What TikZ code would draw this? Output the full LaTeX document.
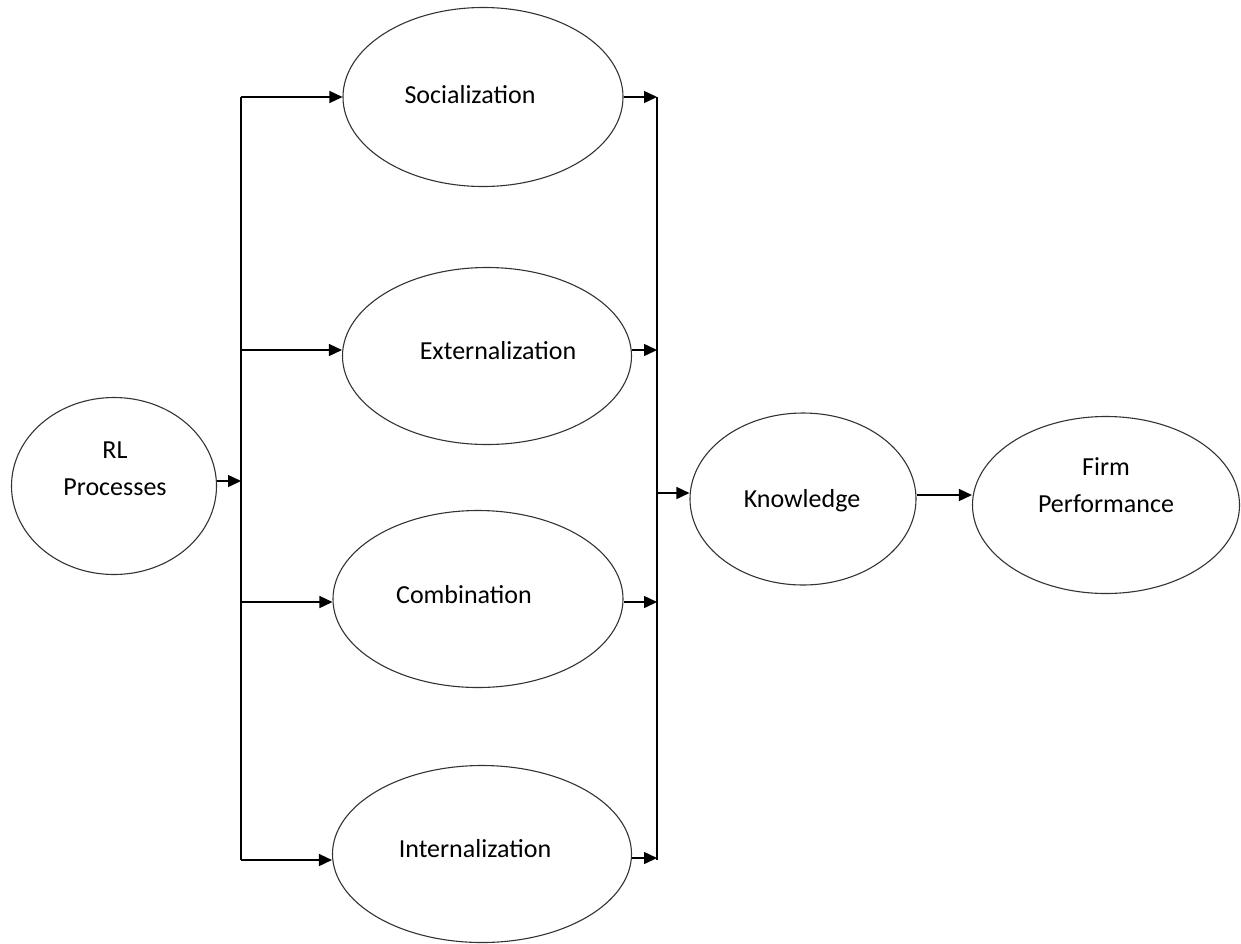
\documentclass[tikz,border=0pt]{standalone}
\usepackage{fontspec}
\setmainfont{Carlito}
\usetikzlibrary{shapes.geometric,arrows.meta}
\begin{document}
\begin{tikzpicture}[x=1pt,y=-1pt,
  ell/.style={draw=black!80,line width=1.1pt,ellipse,inner sep=0pt},
  lbl/.style={font=\fontsize{26}{37}\selectfont,align=center,inner sep=0pt},
  conn/.style={line width=1.5pt},
  arr/.style={line width=1.5pt,-{Triangle[length=13pt,width=12pt]}}]
\useasboundingbox (0,0) rectangle (1241,943);
% ellipses
\node[ell,minimum width=205pt,minimum height=177pt] (rl) at (114,486) {};
\node[ell,minimum width=280pt,minimum height=179pt] (soc) at (483,97) {};
\node[ell,minimum width=289pt,minimum height=177pt] (ext) at (487,356) {};
\node[ell,minimum width=290pt,minimum height=177pt] (com) at (478,599) {};
\node[ell,minimum width=299pt,minimum height=177pt] (int) at (482,854) {};
\node[ell,minimum width=226pt,minimum height=172pt] (kno) at (803,499) {};
\node[ell,minimum width=267pt,minimum height=177pt] (fp) at (1106,505) {};
% labels
\node[lbl] (rlt) at (115,469) {RL\\Processes};
\node[lbl,anchor=base] (soct) at (470,103) {Socialization};
\node[lbl,anchor=base] (extt) at (498,359) {Externalization};
\node[lbl,anchor=base] (comt) at (464,603) {Combination};
\node[lbl,anchor=base] (intt) at (475,857) {Internalization};
\node[lbl,anchor=base] (knot) at (802,507) {Knowledge};
\node[lbl] (fpt) at (1106,485) {Firm\\Performance};
% bus coordinates
\coordinate (lt) at (241,97);
\coordinate (lb) at (241,860);
\coordinate (lm) at (241,481);
\coordinate (rt) at (657,97);
\coordinate (rb) at (657,860);
\coordinate (rm) at (657,493);
\coordinate (l2) at (241,350);
\coordinate (l3) at (241,602);
\coordinate (r1) at (657,97);
\coordinate (r2) at (657,350);
\coordinate (r3) at (657,602);
\coordinate (r4) at (657,858);
% left bus
\draw[conn] (lt) -- (lb);
\draw[arr] (rl.east |- lm) -- (lm);
\draw[arr] (lt) -- (soc.west);
\draw[arr] (l2) -- (ext.west |- l2);
\draw[arr] (l3) -- (com.west |- l3);
\draw[arr] (lb) -- (int.west |- lb);
% right bus
\draw[conn] (rt) -- (rb);
\draw[arr] (soc.east) -- (r1);
\draw[arr] (ext.east |- r2) -- (r2);
\draw[arr] (com.east |- r3) -- (r3);
\draw[arr] (int.east |- r4) -- (r4);
\draw[arr] (rm) -- (kno.west |- rm);
\draw[arr] (kno.east |- 0,495) -- (fp.west |- 0,495);
\end{tikzpicture}
\end{document}
